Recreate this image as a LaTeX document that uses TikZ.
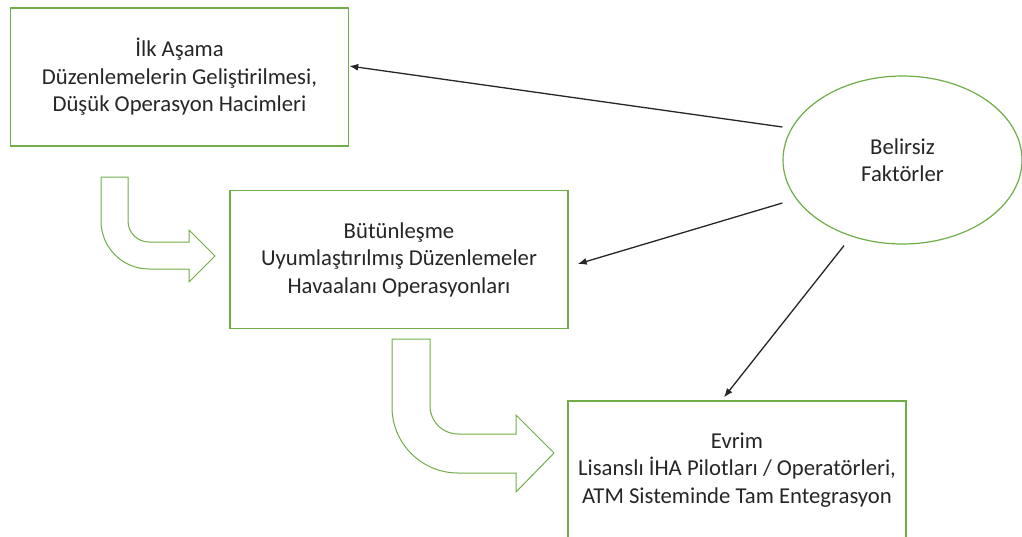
\documentclass[tikz,border=0pt]{standalone}
\usepackage{fontspec}
\setmainfont{Carlito}
\usetikzlibrary{shapes.geometric,arrows.meta}
\definecolor{stage}{HTML}{70AD47}
\definecolor{ink}{HTML}{262626}
\begin{document}
\begin{tikzpicture}[x=1pt,y=-1pt,
  stagebox/.style={draw=stage,line width=1.4pt,fill=white,minimum width=338pt,
    minimum height=138pt,inner sep=0pt,align=center,text=ink,
    font=\fontsize{22.7}{27.5}\selectfont},
  factor/.style={ellipse,draw=stage,line width=1.2pt,fill=white,minimum width=239pt,
    minimum height=168pt,inner sep=0pt,align=center,text=ink,
    font=\fontsize{22.7}{27.5}\selectfont},
  flow/.style={draw=stage,line width=1pt,fill=white,line join=miter},
  link/.style={draw=ink,line width=1.3pt,-{Latex[length=9pt,width=7pt]}}]
\useasboundingbox (0,0) rectangle (1022,536);

% stage boxes
\node[stagebox] (b1) at (179.5,77) {İlk Aşama\\Düzenlemelerin Geliştirilmesi,\\Düşük Operasyon Hacimleri};
\node[stagebox] (b2) at (399,259.5) {Bütünleşme\\Uyumlaştırılmış Düzenlemeler\\Havaalanı Operasyonları};
\node[stagebox] (b3) at (737,470) {Evrim\\Lisanslı İHA Pilotları / Operatörleri,\\ATM Sisteminde Tam Entegrasyon};

% uncertain factors
\node[factor] (ell) at (902.5,160) {Belirsiz\\Faktörler};

% bent block arrows between the stages
\path[flow] (101,177) -- (128,177) -- (128,221) arc[start angle=180,end angle=90,radius=21]
  -- (189,242) -- (189,230) -- (215,256) -- (189,282) -- (189,269) -- (149,269)
  arc[start angle=90,end angle=180,radius=48] -- cycle;
\path[flow] (392,339) -- (430,339) -- (430,406) arc[start angle=180,end angle=90,radius=28]
  -- (516,434) -- (516,415) -- (554,453) -- (516,492) -- (516,473) -- (458,473)
  arc[start angle=90,end angle=180,radius=66] -- cycle;

% influence of the uncertain factors
\draw[link] ([yshift=33pt]ell.west) -- ([yshift=11pt]b1.east);
\draw[link] ([yshift=-43pt]ell.west) -- ([xshift=9pt,yshift=-4.5pt]b2.east);
\draw[link] ([xshift=-58.5pt,yshift=-1pt]ell.south) -- ([xshift=-13pt,yshift=3pt]b3.north);
\end{tikzpicture}
\end{document}
